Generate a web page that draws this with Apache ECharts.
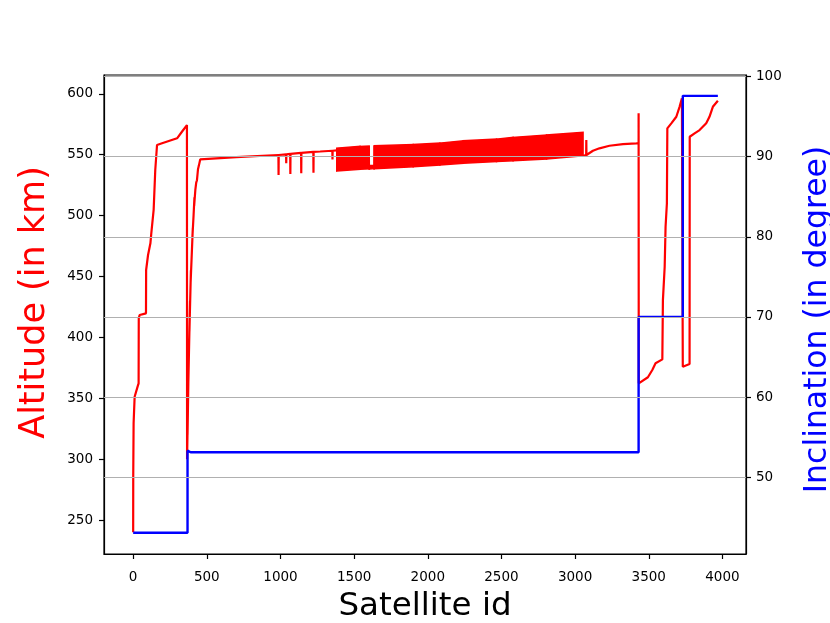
<!DOCTYPE html>
<html>
<head>
<meta charset="utf-8">
<script src="https://cdn.jsdelivr.net/npm/echarts@6/dist/echarts.min.js"></script>
<style>
  html, body { margin: 0; padding: 0; background: #fff; }
  #chart { width: 830px; height: 623px; }
</style>
</head>
<body>
<div id="chart"></div>
<script>
// altitude (km), single satellites before the dense shell
const headIds = [0, 0.5, 3, 10, 30, 37, 38, 44, 87, 88, 101, 117, 123, 139, 150, 162, 196, 298, 331, 365,
  366, 372, 369, 378, 374, 386, 382, 392, 390, 399, 405, 402, 410, 416, 414, 422, 428, 433, 440, 446, 455,
  700, 986, 987, 988, 1038, 1039, 1040, 1066, 1067, 1068, 1140, 1141, 1142, 1223, 1224, 1225,
  1269, 1352, 1353, 1354, 1382];
const headAlt = [240, 286, 329.6, 351.2, 359.5, 362.2, 415.6, 418.3, 419.7, 455.3, 467.6, 477.2, 485.4, 504.6, 537.4, 557.9, 559.3, 563.4, 568.8, 574.3,
  300, 345, 320, 390, 360, 430, 405, 455, 445, 472, 490, 482, 500, 515, 508, 521, 527, 529, 538, 541, 546.1,
  548, 549.7, 533.3, 549.7, 550.3, 542.9, 550.3, 550.6, 534.1, 550.6, 551.4, 534.7, 551.4, 552.3, 535.2, 552.3,
  552.6, 553.2, 546.1, 553.2, 553.5];

// dense band (lower / upper edge)
const bandIds = [1382, 1540, 1602, 1603, 1635, 1636, 1901, 2082, 2240, 2467, 2579, 2806, 3054];
const bandLow = [536.5, 538.0, 538.3, 538.3, 538.5, 538.5, 540.1, 541.5, 542.9, 544.3, 545.0, 546.4, 549.1];
const bandHigh = [555.4, 556.8, 557.1, 541.0, 541.0, 557.3, 558.4, 559.5, 561.4, 562.8, 564.2, 566.1, 568.3];

// altitude after the band
const tailIds = [3054, 3075, 3076, 3077, 3121, 3165, 3233, 3325, 3416, 3431, 3431, 3432, 3437, 3494, 3524, 3546, 3592,
  3596, 3608, 3614, 3623, 3626, 3653, 3687, 3709, 3725, 3731, 3777, 3778, 3811, 3845, 3890, 3912, 3935, 3969];
const tailAlt = [549.1, 549.6, 562, 549.7, 553.2, 555.2, 557.3, 558.7, 559.3, 559.5, 583.9, 362.2, 363.5, 367.2, 373.2, 378.7, 381.9,
  430.6, 458, 490.8, 510, 571.6, 575.7, 581.1, 589.3, 596.2, 375.9, 378.1, 564.7, 567.5, 570.2, 575.7, 581.1, 589.3, 594.3];

// inclination (degree)
const inclIds = [0, 369, 369, 372, 380, 390, 400, 410, 420, 986, 987, 988, 1066, 1067, 1068, 1140, 1141, 1142,
  1223, 1224, 1225, 3431, 3431, 3731, 3731, 3969];
const inclVals = [43.05, 43.05, 53.3, 53.1, 53.25, 53.1, 53.25, 53.1, 53.1, 53.1, 53.3, 53.1, 53.1, 53.3, 53.1, 53.1, 53.3, 53.1,
  53.1, 53.3, 53.1, 53.1, 70, 70, 97.6, 97.6];

const xTicks = [0, 500, 1000, 1500, 2000, 2500, 3000, 3500, 4000];
const altTicks = [250, 300, 350, 400, 450, 500, 550, 600];
const inclTicks = [50, 60, 70, 80, 90, 100];

const zip = (xs, ys) => xs.map((x, i) => [x, ys[i]]);
// one quad per pair of neighbouring band samples
const bandSegs = bandIds.slice(0, -1).map((id, i) =>
  [id, bandLow[i], bandHigh[i], bandIds[i + 1], bandLow[i + 1], bandHigh[i + 1]]);

const FONT = 'DejaVu Sans';
const RED = '#ff0000';
const BLUE = '#0000ff';

const chart = echarts.init(document.getElementById('chart'), null, { renderer: 'canvas' });

const tickStyle = { show: true, length: 5, lineStyle: { color: '#000', width: 1.2 } };
const plain = v => String(v);

chart.setOption({
  animation: false,
  backgroundColor: '#fff',
  grid: {
    left: 104, right: 84, top: 75, bottom: 69,
    outerBoundsMode: 'none', containLabel: false,
    show: true, borderColor: '#000', borderWidth: 1.2
  },
  xAxis: {
    type: 'value',
    min: -198,
    max: 4160,
    name: 'Satellite id',
    nameLocation: 'middle',
    nameGap: 36,
    nameTextStyle: { fontFamily: FONT, fontSize: 32.5, color: '#000' },
    axisLine: { show: true, onZero: false, lineStyle: { color: '#000', width: 1.2 } },
    axisTick: Object.assign({ customValues: xTicks }, tickStyle),
    axisLabel: { customValues: xTicks, formatter: plain, fontFamily: FONT, fontSize: 13.5, color: '#000', margin: 16 },
    splitLine: { show: false }
  },
  yAxis: [
    {
      type: 'value',
      position: 'left',
      min: 222.1,
      max: 615.4,
      name: 'Altitude (in km)',
      nameLocation: 'middle',
      nameRotate: 90,
      nameGap: 52,
      // left padding nudges the title up a little
      nameTextStyle: { fontFamily: FONT, fontSize: 35, color: RED, padding: [0, 0, 0, 24] },
      axisLine: { show: true, onZero: false, lineStyle: { color: '#000', width: 1.2 } },
      axisTick: Object.assign({ customValues: altTicks }, tickStyle),
      axisLabel: { customValues: altTicks, formatter: plain, fontFamily: FONT, fontSize: 13.5, color: '#000', margin: 11 },
      splitLine: { show: false }
    },
    {
      type: 'value',
      position: 'right',
      min: 40.4,
      max: 100.2,
      name: 'Inclination (in degree)',
      nameLocation: 'middle',
      nameRotate: 90,
      nameGap: 56,
      nameTextStyle: { fontFamily: FONT, fontSize: 31.5, color: BLUE, padding: [0, 10, 0, 0] },
      axisLine: { show: true, onZero: false, lineStyle: { color: '#000', width: 1.2 } },
      axisTick: Object.assign({ customValues: inclTicks }, tickStyle),
      axisLabel: { customValues: inclTicks, formatter: plain, fontFamily: FONT, fontSize: 13.5, color: '#000', margin: 10 },
      splitLine: { show: false }
    }
  ],
  series: [
    {
      type: 'line', yAxisIndex: 0, z: 2, showSymbol: false, silent: true,
      lineStyle: { color: RED, width: 2.2 },
      data: zip(headIds, headAlt)
    },
    {
      type: 'custom', yAxisIndex: 0, z: 2, silent: true,
      encode: { x: [0, 3], y: [1, 2, 4, 5] },
      data: bandSegs,
      renderItem: (params, api) => {
        const a = api.coord([api.value(0), api.value(1)]);
        const b = api.coord([api.value(3), api.value(4)]);
        const c = api.coord([api.value(3), api.value(5)]);
        const d = api.coord([api.value(0), api.value(2)]);
        return {
          type: 'polygon',
          shape: { points: [a, b, c, d] },
          style: { fill: RED, stroke: RED, lineWidth: 1.5 }
        };
      }
    },
    {
      type: 'line', yAxisIndex: 0, z: 2, showSymbol: false, silent: true,
      lineStyle: { color: RED, width: 2.2 },
      data: zip(tailIds, tailAlt)
    },
    {
      // grid lines of the inclination axis, drawn above the red and below the blue
      type: 'line', yAxisIndex: 1, z: 3, showSymbol: false, silent: true,
      lineStyle: { opacity: 0 },
      data: zip(inclIds, inclVals),
      markLine: {
        silent: true, symbol: 'none', animation: false,
        label: { show: false },
        lineStyle: { color: '#b0b0b0', width: 1.2, type: 'solid' },
        data: inclTicks.map(v => ({ yAxis: v }))
      }
    },
    {
      type: 'line', yAxisIndex: 1, z: 4, showSymbol: false, silent: true,
      lineStyle: { color: BLUE, width: 2.4 },
      data: zip(inclIds, inclVals)
    }
  ]
});
</script>
</body>
</html>
